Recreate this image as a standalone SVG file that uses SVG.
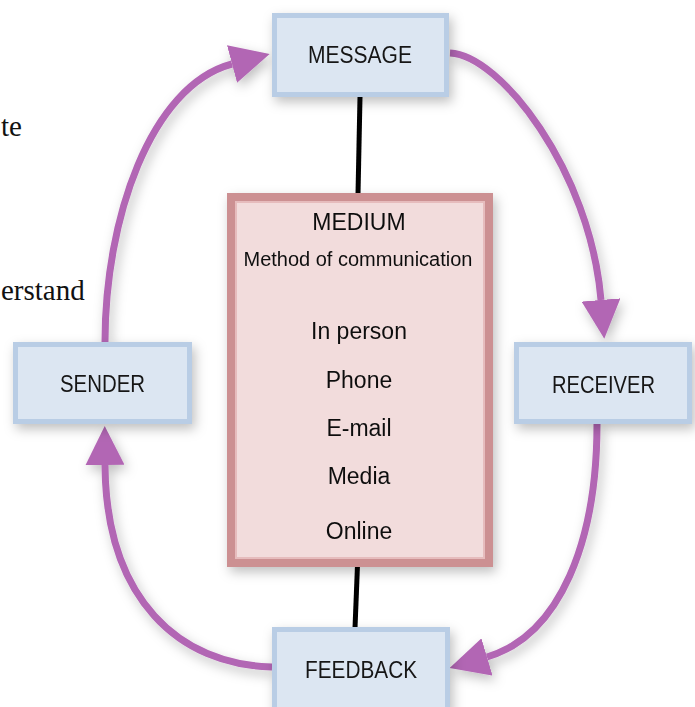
<svg xmlns="http://www.w3.org/2000/svg" width="695" height="707" viewBox="0 0 695 707">
  <defs>
    <style>
      .box { fill: #dce6f2; stroke: #b9cde5; stroke-width: 5; }
      .lbl { font-family: "Liberation Sans", Arial, sans-serif; font-size: 23px; fill: #161616; text-anchor: middle; }
      .med { fill: #f2dcdc; stroke: #cc9092; stroke-width: 8; }
      .medin { fill: none; stroke: #e6bcbd; stroke-width: 2; }
      .mt { font-family: "Liberation Sans", Arial, sans-serif; font-size: 23px; fill: #111; text-anchor: middle; }
      .mt2 { font-family: "Liberation Sans", Arial, sans-serif; font-size: 20px; fill: #111; text-anchor: middle; }
      .arc { fill: none; stroke: #b266b4; stroke-width: 7; }
      .link { fill: none; stroke: #000; stroke-width: 5; }
      .frag { font-family: "Liberation Serif", "Times New Roman", serif; font-size: 29px; fill: #111; }
    </style>
    <marker id="ah" markerUnits="userSpaceOnUse" markerWidth="39" markerHeight="39" viewBox="0 0 39 39" refX="0" refY="19.5" orient="auto">
      <path d="M0,0 L39,19.5 L0,39 z" fill="#b266b4"/>
    </marker>
    <filter id="sh" x="-30%" y="-30%" width="160%" height="160%">
      <feDropShadow dx="3" dy="5" stdDeviation="6" flood-color="#000" flood-opacity="0.25"/>
    </filter>
  </defs>

  <rect width="695" height="707" fill="#ffffff"/>

  <text class="frag" x="1" y="136">te</text>
  <text class="frag" x="1" y="300">erstand</text>

  <g id="connectors">
    <line class="link" x1="360" y1="97" x2="358" y2="194"/>
    <line class="link" x1="357.5" y1="565" x2="355" y2="628"/>
    <g filter="url(#sh)">
      <path class="arc" d="M105,342 C105,220 150,86 232,64" marker-end="url(#ah)"/>
      <path class="arc" d="M450,53 C500,55 590,170 601,300" marker-end="url(#ah)"/>
      <path class="arc" d="M597,424 C597,540 561,635 487,657" marker-end="url(#ah)"/>
      <path class="arc" d="M272,667 C180,665 106,600 105,465" marker-end="url(#ah)"/>
    </g>
  </g>

  <g id="message" filter="url(#sh)">
    <rect class="box" x="274.5" y="15.5" width="172" height="79"/>
    <text class="lbl" x="360" y="63" textLength="104" lengthAdjust="spacingAndGlyphs">MESSAGE</text>
  </g>

  <g id="sender" filter="url(#sh)">
    <rect class="box" x="15.5" y="344.5" width="174" height="77"/>
    <text class="lbl" x="102.5" y="392" textLength="85" lengthAdjust="spacingAndGlyphs">SENDER</text>
  </g>

  <g id="receiver" filter="url(#sh)">
    <rect class="box" x="516.5" y="344.5" width="173" height="77"/>
    <text class="lbl" x="603.5" y="393" textLength="103" lengthAdjust="spacingAndGlyphs">RECEIVER</text>
  </g>

  <g id="feedback" filter="url(#sh)">
    <rect class="box" x="274.5" y="629.5" width="173" height="82"/>
    <text class="lbl" x="361" y="678" textLength="112" lengthAdjust="spacingAndGlyphs">FEEDBACK</text>
  </g>

  <g id="medium" filter="url(#sh)">
    <rect class="med" x="231" y="197" width="258" height="366"/>
    <rect class="medin" x="236" y="202" width="248" height="356"/>
    <text class="mt" x="359" y="230">MEDIUM</text>
    <text class="mt2" x="358" y="266">Method of communication</text>
    <text class="mt" x="359" y="339">In person</text>
    <text class="mt" x="359" y="388">Phone</text>
    <text class="mt" x="359" y="436">E-mail</text>
    <text class="mt" x="359" y="484">Media</text>
    <text class="mt" x="359" y="539">Online</text>
  </g>
</svg>
